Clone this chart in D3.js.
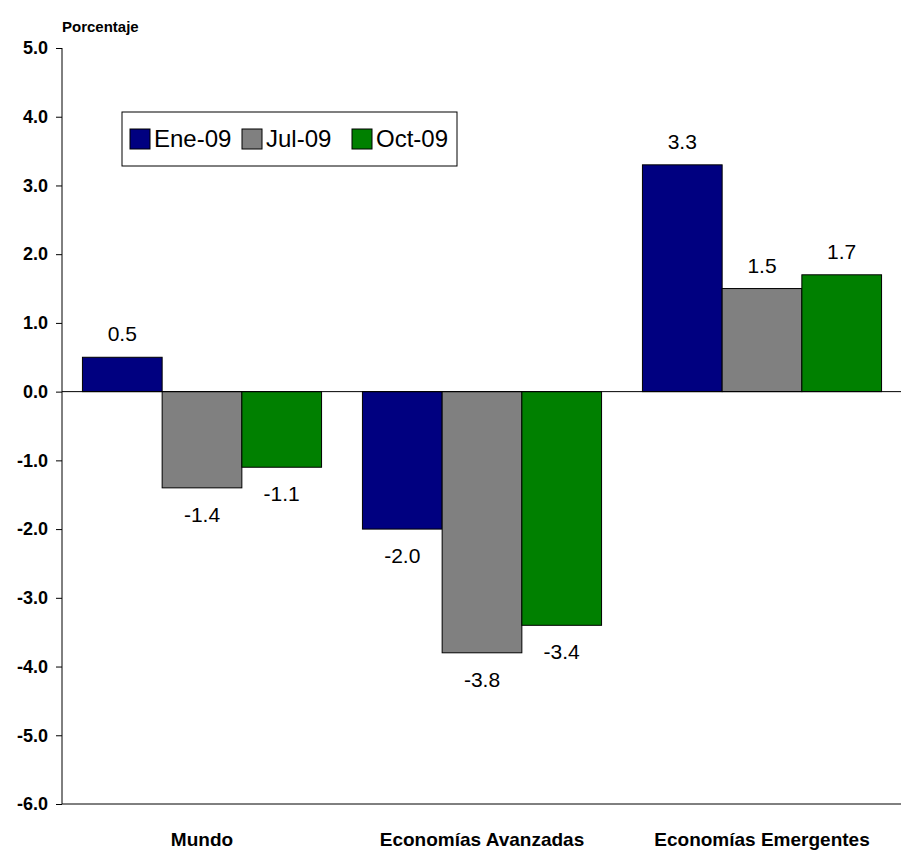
<!DOCTYPE html>
<html><head><meta charset="utf-8">
<script src="https://cdn.jsdelivr.net/npm/d3@7"></script>
<style>body{margin:0;background:#fff}svg{display:block}text{font-family:"Liberation Sans Narrow","Liberation Sans",Arial,sans-serif}</style>
</head><body><svg id="c" width="901" height="855"></svg>
<script>
const categories = ["Mundo", "Economías Avanzadas", "Economías Emergentes"];
const seriesNames = ["Ene-09", "Jul-09", "Oct-09"];
const seriesColors = ["#000080", "#808080", "#008000"];
const ene09 = [0.5, -2.0, 3.3];
const jul09 = [-1.4, -3.8, 1.5];
const oct09 = [-1.1, -3.4, 1.7];
const yTicks = [5, 4, 3, 2, 1, 0, -1, -2, -3, -4, -5, -6];

const series = [ene09, jul09, oct09];
const svg = d3.select("#c");
const mLeft = 62, mRight = 902, mTop = 48, mBottom = 804;

const y = d3.scaleLinear().domain([-6, 5]).range([mBottom, mTop]);
const x = d3.scaleBand().domain(categories).range([mLeft, mRight]).paddingInner(0.146).paddingOuter(0.073);
const xs = d3.scaleBand().domain(seriesNames).range([0, x.bandwidth()]);
const fmt = d => d.toFixed(1);

// frame
svg.append("line").attr("x1", mLeft).attr("x2", mLeft).attr("y1", mTop).attr("y2", mBottom).attr("stroke", "#000");
svg.append("line").attr("x1", mLeft).attr("x2", mRight).attr("y1", mBottom).attr("y2", mBottom).attr("stroke", "#000");

const yAxis = svg.append("g").attr("transform", `translate(${mLeft},0)`)
  .call(d3.axisLeft(y).tickValues(yTicks).tickSize(6).tickFormat(fmt));
yAxis.select(".domain").remove();
yAxis.selectAll("text").attr("font-size", 18).attr("font-weight", "bold").attr("x", -14)
  .attr("font-family", '"Liberation Sans Narrow","Liberation Sans",Arial');

svg.append("text").attr("x", 62).attr("y", 32).attr("font-size", 15).attr("font-weight", "bold").text("Porcentaje");

series.forEach((vals, si) => {
  const g = svg.append("g");
  g.selectAll("rect").data(vals).enter().append("rect")
    .attr("x", (d, i) => x(categories[i]) + xs(seriesNames[si]))
    .attr("width", xs.bandwidth())
    .attr("y", d => y(Math.max(0, d)))
    .attr("height", d => Math.abs(y(d) - y(0)))
    .attr("fill", seriesColors[si]).attr("stroke", "#000").attr("stroke-width", 1);
  g.selectAll("text").data(vals).enter().append("text")
    .attr("x", (d, i) => x(categories[i]) + xs(seriesNames[si]) + xs.bandwidth() / 2)
    .attr("y", d => d >= 0 ? y(d) - 16 : y(d) + 34)
    .attr("text-anchor", "middle").attr("font-size", 21).text(d => fmt(d));
});

// zero line
svg.append("line").attr("x1", mLeft).attr("x2", mRight).attr("y1", y(0)).attr("y2", y(0)).attr("stroke", "#000");

svg.selectAll(".cat").data(categories).enter().append("text")
  .attr("x", d => x(d) + x.bandwidth() / 2).attr("y", 846)
  .attr("text-anchor", "middle").attr("font-size", 19).attr("font-weight", "bold").text(d => d);

// legend
const lg = svg.append("g").attr("transform", "translate(122,112)");
lg.append("rect").attr("width", 335).attr("height", 54).attr("fill", "#fff").attr("stroke", "#000");
const legX = [8, 120, 230];
seriesNames.forEach((n, i) => {
  lg.append("rect").attr("x", legX[i]).attr("y", 17).attr("width", 20).attr("height", 20)
    .attr("fill", seriesColors[i]).attr("stroke", "#000");
  lg.append("text").attr("x", legX[i] + 24).attr("y", 35).attr("font-size", 24).text(n);
});
</script></body></html>
